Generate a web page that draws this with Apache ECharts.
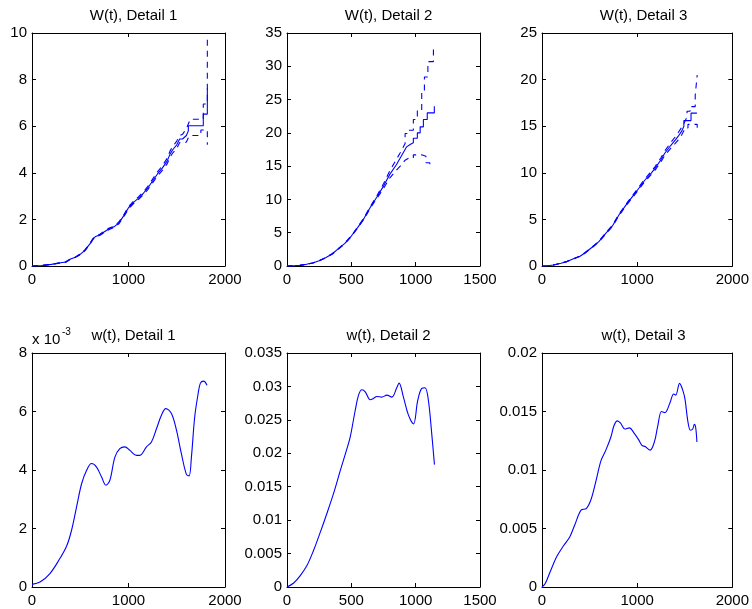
<!DOCTYPE html>
<html>
<head>
<meta charset="utf-8">
<script src="https://cdn.jsdelivr.net/npm/echarts@6/dist/echarts.min.js"></script>
<style>html,body{margin:0;padding:0;background:#fff}#c{width:752px;height:609px}</style>
</head>
<body>
<div id="c"></div>
<script>
// ---- Data (t, value) ----
const titles = ['W(t), Detail 1', 'W(t), Detail 2', 'W(t), Detail 3', 'w(t), Detail 1', 'w(t), Detail 2', 'w(t), Detail 3'];

const W1_est = [[0,0],[100,0.02],[200,0.07],[300,0.14],[350,0.17],[360,0.25],[400,0.3],[450,0.38],[500,0.5],[550,0.68],[600,0.95],[630,1.15],[660,1.27],[700,1.33],[750,1.47],[800,1.6],[850,1.68],[900,1.85],[950,2.15],[1000,2.5],[1050,2.72],[1100,2.9],[1150,3.1],[1200,3.35],[1250,3.65],[1300,3.95],[1350,4.2],[1400,4.5],[1430,4.8],[1460,5.0],[1500,5.2],[1530,5.45],[1560,5.45],[1580,5.5],[1600,5.6],[1620,5.8],[1620,6.02],[1775,6.02],[1775,6.52],[1817,6.52],[1817,7.62]];
const W1_up = [[0,0],[100,0.02],[200,0.07],[300,0.15],[350,0.18],[360,0.26],[400,0.31],[450,0.39],[500,0.52],[550,0.7],[600,0.97],[630,1.17],[660,1.29],[700,1.35],[750,1.5],[800,1.63],[850,1.71],[900,1.89],[950,2.19],[1000,2.55],[1050,2.77],[1100,2.96],[1150,3.16],[1200,3.42],[1250,3.73],[1300,4.04],[1350,4.3],[1400,4.62],[1430,4.93],[1460,5.14],[1500,5.36],[1530,5.6],[1560,5.65],[1600,5.9],[1640,6.3],[1775,6.3],[1775,6.95],[1817,6.95],[1817,9.9]];
const W1_lo = [[0,0],[100,0.02],[200,0.07],[300,0.13],[350,0.16],[360,0.24],[400,0.29],[450,0.37],[500,0.48],[550,0.66],[600,0.93],[630,1.13],[660,1.25],[700,1.31],[750,1.44],[800,1.57],[850,1.65],[900,1.81],[950,2.11],[1000,2.45],[1050,2.67],[1100,2.84],[1150,3.04],[1200,3.28],[1250,3.57],[1300,3.86],[1350,4.1],[1400,4.38],[1430,4.67],[1460,4.86],[1500,5.04],[1530,5.3],[1560,5.27],[1600,5.32],[1620,5.5],[1640,5.6],[1750,5.6],[1750,5.84],[1817,5.84],[1817,5.2]];

const W2_est = [[0,0],[50,0.02],[100,0.1],[150,0.25],[200,0.45],[250,0.8],[300,1.25],[350,1.8],[400,2.6],[450,3.4],[500,4.5],[550,5.8],[600,7.2],[650,8.9],[700,10.4],[750,12.0],[800,13.8],[850,15.2],[900,16.9],[930,17.9],[960,18.3],[960,18.5],[982,18.5],[982,19.2],[1013,19.2],[1013,20.0],[1035,20.0],[1035,20.9],[1060,20.9],[1060,22.0],[1090,22.0],[1090,23.0],[1145,23.0],[1145,24.0]];
const W2_up = [[0,0],[50,0.02],[100,0.1],[150,0.25],[200,0.46],[250,0.82],[300,1.27],[350,1.83],[400,2.64],[450,3.45],[500,4.56],[550,5.87],[600,7.3],[650,9.02],[700,10.6],[750,12.35],[800,14.35],[850,16.0],[880,17.0],[918,18.4],[918,19.9],[945,19.9],[945,20.4],[982,20.4],[982,22.0],[1013,22.0],[1013,23.4],[1047,23.4],[1047,26.2],[1068,26.2],[1068,28.4],[1095,28.4],[1095,30.7],[1138,30.7],[1138,33.0]];
const W2_lo = [[0,0],[50,0.02],[100,0.1],[150,0.25],[200,0.44],[250,0.78],[300,1.23],[350,1.77],[400,2.56],[450,3.35],[500,4.44],[550,5.73],[600,7.1],[650,8.78],[700,10.2],[750,11.65],[800,13.25],[850,14.4],[880,15.0],[918,15.9],[945,16.2],[982,16.2],[982,16.7],[1047,16.7],[1047,16.5],[1080,16.5],[1080,15.5],[1110,15.5],[1110,14.7]];

const W3_est = [[0,0],[60,0.03],[120,0.1],[200,0.3],[260,0.47],[300,0.65],[350,0.85],[400,1.05],[450,1.4],[500,1.8],[550,2.2],[600,2.65],[670,3.5],[740,4.3],[810,5.5],[880,6.5],[950,7.45],[1000,8.1],[1080,9.2],[1150,10.0],[1190,10.5],[1250,11.4],[1290,12.1],[1350,12.9],[1400,13.5],[1430,13.9],[1470,14.5],[1491,15.0],[1491,15.6],[1566,15.6],[1566,16.4],[1628,16.4]];
const W3_up = [[0,0],[60,0.03],[120,0.1],[200,0.31],[260,0.48],[300,0.66],[350,0.87],[400,1.07],[450,1.43],[500,1.83],[550,2.24],[600,2.7],[670,3.56],[740,4.37],[810,5.58],[880,6.59],[950,7.56],[1000,8.22],[1080,9.34],[1150,10.17],[1190,10.69],[1250,11.62],[1290,12.35],[1350,13.2],[1400,13.85],[1430,14.3],[1470,14.9],[1491,15.3],[1524,16.0],[1524,16.6],[1556,16.6],[1556,17.1],[1610,17.1],[1610,18.3],[1631,18.3],[1631,20.5]];
const W3_lo = [[0,0],[60,0.03],[120,0.1],[200,0.29],[260,0.46],[300,0.64],[350,0.83],[400,1.03],[450,1.37],[500,1.77],[550,2.16],[600,2.6],[670,3.44],[740,4.23],[810,5.42],[880,6.41],[950,7.34],[1000,7.98],[1080,9.06],[1150,9.83],[1190,10.31],[1250,11.18],[1290,11.85],[1350,12.6],[1400,13.15],[1430,13.5],[1470,14.1],[1491,14.5],[1500,14.8],[1534,14.8],[1534,15.2],[1600,15.2],[1631,15.2],[1631,14.4]];

const w1 = [[0,0.00009],[83,0.00017],[186,0.00046],[290,0.00098],[359,0.0014],[410,0.00194],[462,0.00274],[514,0.00353],[566,0.00399],[617,0.00422],[669,0.0041],[721,0.00376],[766,0.00348],[807,0.00365],[859,0.00444],[910,0.00473],[962,0.00479],[1014,0.00467],[1083,0.0045],[1117,0.0045],[1186,0.00479],[1238,0.00496],[1290,0.00541],[1341,0.00587],[1386,0.0061],[1445,0.00593],[1497,0.00536],[1548,0.00456],[1600,0.00385],[1628,0.0038],[1652,0.00444],[1686,0.00581],[1721,0.0066],[1745,0.00697],[1779,0.00704],[1814,0.0069]];
const w2 = [[0,0],[52,0.0006],[103,0.0017],[155,0.0032],[207,0.0055],[259,0.0082],[310,0.011],[362,0.014],[414,0.0174],[466,0.0207],[491,0.0224],[530,0.0264],[556,0.0287],[582,0.0295],[608,0.0292],[647,0.028],[672,0.0282],[698,0.0285],[737,0.0284],[776,0.0287],[815,0.0284],[853,0.0298],[871,0.0305],[905,0.0284],[944,0.0257],[983,0.0244],[1016,0.0279],[1047,0.0297],[1073,0.0298],[1099,0.0279],[1125,0.0229],[1146,0.0183]];
const w3 = [[0,0],[34,0.0003],[86,0.0013],[155,0.0026],[224,0.0035],[293,0.0043],[344,0.0053],[413,0.0066],[465,0.0067],[516,0.0075],[568,0.0091],[620,0.0108],[671,0.0117],[723,0.0128],[757,0.0138],[792,0.0142],[826,0.014],[871,0.0135],[919,0.0136],[964,0.0132],[1015,0.0126],[1050,0.0121],[1084,0.012],[1136,0.0117],[1181,0.0124],[1215,0.0137],[1256,0.015],[1291,0.0149],[1343,0.0157],[1384,0.0165],[1405,0.0164],[1446,0.0174],[1480,0.0168],[1504,0.016],[1532,0.0142],[1560,0.0134],[1584,0.0135],[1601,0.0139],[1614,0.0137],[1628,0.0124]];

// axis ranges
const xMaxes = [2000, 1500, 2000, 2000, 1500, 2000];
const xSteps = [1000, 500, 1000, 1000, 500, 1000];
const yMaxes = [10, 35, 25, 0.008, 0.035, 0.02];
const ySteps = [2, 5, 5, 0.002, 0.005, 0.005];

// ---- layout ----
const FONT = 'Liberation Sans, Arial, Helvetica, sans-serif';
const lefts = [32, 287, 542];
const tops = [33, 353];
const GW = 193, GH = 233;

const grids = [], xAxes = [], yAxes = [], series = [], titleOpts = [];
const blue = '#0000ff';

for (let i = 0; i < 6; i++) {
  const col = i % 3, row = Math.floor(i / 3);
  grids.push({ left: lefts[col], top: tops[row], width: GW, height: GH + row, containLabel: false });
  const tick = { show: true, inside: true, length: 4, lineStyle: { color: '#000', width: 1 } };
  const line = { show: true, onZero: false, lineStyle: { color: '#000', width: 1 } };
  const lbl = { show: true, color: '#000', fontSize: 15, fontFamily: FONT };
  xAxes.push({ type: 'value', gridIndex: i, position: 'bottom', min: 0, max: xMaxes[i], interval: xSteps[i],
    axisLine: line, axisTick: tick, splitLine: { show: false },
    axisLabel: Object.assign({ margin: 6, formatter: v => String(v) }, lbl) });
  xAxes.push({ type: 'value', gridIndex: i, position: 'top', min: 0, max: xMaxes[i], interval: xSteps[i],
    axisLine: line, axisTick: tick, splitLine: { show: false }, axisLabel: { show: false } });
  const yl = Object.assign({ margin: 5 }, lbl);
  yl.formatter = (i === 3) ? (v => String(Math.round(v * 1000))) : (v => String(+v.toFixed(6)));
  yAxes.push({ type: 'value', gridIndex: i, position: 'left', min: 0, max: yMaxes[i], interval: ySteps[i],
    axisLine: line, axisTick: tick, splitLine: { show: false }, axisLabel: yl });
  yAxes.push({ type: 'value', gridIndex: i, position: 'right', min: 0, max: yMaxes[i], interval: ySteps[i],
    axisLine: line, axisTick: tick, splitLine: { show: false }, axisLabel: { show: false } });
  titleOpts.push({ text: titles[i], left: lefts[col] + GW / 2, top: row === 0 ? 3 : 323, textAlign: 'center',
    textStyle: { fontSize: 15, fontWeight: 'normal', color: '#000', fontFamily: FONT } });
}

function addLine(idx, data, dashed, smooth) {
  series.push({ type: 'line', xAxisIndex: idx * 2, yAxisIndex: idx * 2, data: data, showSymbol: false,
    smooth: smooth || false, animation: false, silent: true,
    lineStyle: { color: blue, width: 1.1, type: dashed ? [6, 5] : 'solid' } });
}
addLine(0, W1_lo, true); addLine(0, W1_up, true); addLine(0, W1_est, false);
addLine(1, W2_lo, true); addLine(1, W2_up, true); addLine(1, W2_est, false);
addLine(2, W3_lo, true); addLine(2, W3_up, true); addLine(2, W3_est, false);
addLine(3, w1, false, 0.35);
addLine(4, w2, false, 0.35);
addLine(5, w3, false, 0.35);

const chart = echarts.init(document.getElementById('c'), null, { renderer: 'canvas' });
chart.setOption({
  animation: false,
  backgroundColor: '#fff',
  title: titleOpts,
  grid: grids,
  xAxis: xAxes,
  yAxis: yAxes,
  series: series,
  graphic: [
    { type: 'text', left: 32, top: 332, style: { text: 'x 10', fontSize: 15, fontFamily: FONT, fill: '#000' } },
    { type: 'text', left: 62, top: 327, style: { text: '-3', fontSize: 10, fontFamily: FONT, fill: '#000' } }
  ]
});
</script>
</body>
</html>
